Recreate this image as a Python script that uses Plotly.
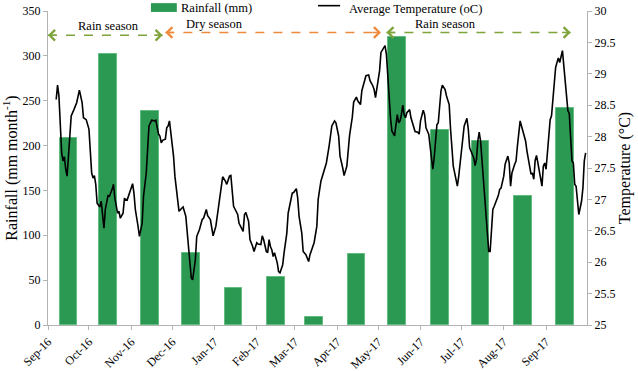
import pandas as pd
import plotly.graph_objects as go

# ---------------- data ----------------
month_labels = ["Sep-16", "Oct-16", "Nov-16", "Dec-16", "Jan-17", "Feb-17", "Mar-17",
                "Apr-17", "May-17", "Jun-17", "Jul-17", "Aug-17", "Sep-17"]
month_starts = ["2016-09-01", "2016-10-01", "2016-11-01", "2016-12-01", "2017-01-01",
                "2017-02-01", "2017-03-01", "2017-04-01", "2017-05-01", "2017-06-01",
                "2017-07-01", "2017-08-01", "2017-09-01"]
rain_dates = ["2016-09-16", "2016-10-15", "2016-11-15", "2016-12-15", "2017-01-15",
              "2017-02-15", "2017-03-15", "2017-04-15", "2017-05-15", "2017-06-15",
              "2017-07-15", "2017-08-15", "2017-09-15"]
rainfall_mm = [208, 302, 238, 80, 41, 53, 9, 79, 321, 217, 205, 144, 242]

# days since 2016-09-01 and average temperature (oC)
temp_day = [6, 7, 8, 9, 10, 11, 12, 13, 14, 15, 16, 17, 19, 21, 23, 24, 25, 26, 28, 30,
            31, 32, 33, 34, 35, 36, 38, 39, 41, 42, 44, 45, 47, 48, 49, 51, 52, 53, 55, 56,
            58, 59, 61, 62, 63, 64, 66, 67, 69, 70, 72, 73, 74, 76, 78, 79, 81, 82, 83, 84,
            86, 87, 88, 89, 90, 92, 93, 95, 96, 98, 99, 101, 102, 103, 104, 105, 106, 108, 109, 111,
            113, 114, 116, 117, 119, 120, 121, 123, 124, 126, 127, 128, 130, 131, 133, 134, 136, 137, 139, 140,
            142, 143, 144, 145, 147, 148, 150, 151, 153, 154, 156, 157, 158, 160, 161, 162, 163, 164, 165, 166,
            168, 169, 170, 172, 173, 175, 176, 178, 179, 180, 182, 183, 184, 186, 187, 189, 191, 192, 194, 195,
            197, 198, 200, 202, 203, 204, 206, 207, 208, 210, 211, 213, 214, 216, 217, 219, 220, 221, 223, 224,
            226, 227, 229, 230, 232, 233, 235, 236, 238, 239, 240, 241, 243, 244, 246, 247, 248, 249, 250, 251,
            252, 254, 255, 256, 257, 258, 259, 260, 261, 262, 263, 265, 266, 268, 269, 271, 272, 273, 275, 276,
            277, 279, 280, 281, 282, 283, 284, 285, 286, 287, 288, 289, 291, 292, 294, 295, 296, 297, 299, 300,
            301, 302, 303, 304, 305, 307, 308, 309, 311, 312, 313, 314, 315, 316, 317, 318, 319, 320, 321, 322,
            323, 324, 325, 326, 327, 329, 330, 331, 332, 334, 335, 337, 338, 339, 340, 342, 343, 344, 345, 346,
            347, 349, 350, 351, 353, 354, 355, 356, 357, 358, 359, 361, 362, 363, 364, 365, 366, 367, 368, 369,
            370, 371, 372, 373, 374, 375, 376, 377, 378, 379, 380, 381, 382, 383, 384, 385, 386, 387, 388, 389,
            391, 392, 393, 394]
temp_c = [28.59, 28.82, 28.65, 28.27, 27.75, 27.61, 27.68, 27.48, 27.37, 27.69, 28.12, 28.33, 28.43, 28.54, 28.74, 28.62, 28.54, 28.30, 28.27, 28.12,
          27.80, 27.42, 27.34, 27.38, 27.24, 26.94, 26.88, 26.97, 26.54, 26.84, 27.06, 27.05, 27.16, 27.24, 27.02, 26.78, 26.81, 26.70, 26.78, 27.01,
          26.99, 27.06, 27.21, 27.25, 27.10, 26.84, 26.57, 26.41, 26.62, 27.05, 27.42, 27.90, 28.17, 28.26, 28.25, 28.26, 28.04, 28.01, 27.90, 27.94,
          27.96, 28.14, 28.17, 28.25, 28.06, 27.69, 27.37, 27.05, 26.81, 26.86, 26.88, 26.73, 26.46, 26.15, 25.88, 25.75, 25.72, 26.04, 26.41, 26.52,
          26.68, 26.70, 26.84, 26.74, 26.68, 26.52, 26.42, 26.57, 26.73, 27.00, 27.21, 27.36, 27.29, 27.24, 27.37, 27.38, 26.89, 26.84, 26.76, 26.62,
          26.52, 26.49, 26.76, 26.79, 26.65, 26.36, 26.25, 26.17, 26.31, 26.29, 26.28, 26.42, 26.36, 26.17, 26.15, 26.36, 26.25, 26.20, 26.09, 26.15,
          25.99, 25.85, 25.83, 25.96, 26.15, 26.46, 26.78, 27.00, 27.10, 27.11, 27.17, 27.02, 26.73, 26.46, 26.17, 26.12, 26.01, 26.12, 26.25, 26.31,
          26.57, 27.00, 27.29, 27.45, 27.49, 27.58, 27.85, 28.01, 28.17, 28.25, 28.22, 28.01, 27.69, 27.50, 27.38, 27.53, 27.85, 28.02, 28.31, 28.55,
          28.63, 28.57, 28.51, 28.73, 28.89, 28.97, 28.98, 28.89, 28.81, 28.75, 28.62, 28.78, 29.05, 29.34, 29.42, 29.45, 29.31, 28.94, 28.73, 28.30,
          28.09, 28.01, 28.19, 28.35, 28.22, 28.25, 28.35, 28.50, 28.35, 28.30, 28.38, 28.43, 28.30, 28.17, 28.08, 28.07, 28.04, 28.25, 28.42, 28.35,
          28.14, 28.04, 27.82, 27.61, 27.48, 27.66, 27.93, 28.19, 28.22, 28.57, 28.73, 28.82, 28.75, 28.65, 28.51, 28.12, 27.80, 27.53, 27.32, 27.21,
          27.37, 27.58, 27.74, 28.04, 28.17, 28.29, 28.12, 27.82, 27.72, 27.66, 27.54, 27.64, 27.93, 28.07, 27.93, 27.64, 27.21, 26.94, 26.68, 26.41,
          26.17, 26.17, 26.52, 26.84, 26.89, 27.00, 27.06, 27.16, 27.18, 27.37, 27.56, 27.69, 27.58, 27.21, 27.42, 27.56, 27.61, 27.85, 28.06, 28.25,
          28.17, 27.98, 27.93, 27.77, 27.53, 27.40, 27.42, 27.32, 27.62, 27.70, 27.58, 27.32, 27.21, 27.53, 27.58, 27.48, 27.77, 28.04, 28.27, 28.33,
          28.57, 28.73, 29.10, 29.18, 29.25, 29.18, 29.26, 29.37, 29.13, 28.89, 28.57, 28.41, 28.37, 28.04, 27.61, 27.58, 27.24, 27.21, 26.97, 26.76,
          26.97, 27.18, 27.61, 27.74]

# season annotations: label, start, end, colour, label centre date
season_labels = ["Rain season", "Dry season", "Rain season"]
season_start = ["2016-09-01", "2016-11-26", "2017-05-07"]
season_end = ["2016-11-24", "2017-05-03", "2017-09-19"]
season_text_at = ["2016-10-15", "2017-01-01", "2017-06-19"]
season_level = [323, 326, 326]
season_colors = ["#7ea43b", "#ef8a3c", "#7ea43b"]

# ---------------- figure ----------------
FONT = "Liberation Serif, Times New Roman, serif"
origin = pd.Timestamp("2016-09-01")
temp_dates = [origin + pd.Timedelta(days=d) for d in temp_day]

fig = go.Figure()
fig.add_trace(go.Bar(
    x=pd.to_datetime(rain_dates), y=rainfall_mm, name="Rainfall (mm)",
    width=13 * 86400000, marker=dict(color="#2b9952", line=dict(color="#62bb80", width=1)),
    showlegend=False))
fig.add_trace(go.Scatter(
    x=temp_dates, y=temp_c, name="Average Temperature (oC)", mode="lines",
    line=dict(color="black", width=1.6), yaxis="y2", showlegend=False))

axis_gray = "#b3b3b3"
fig.update_layout(
    template="none",
    width=638, height=371,
    margin=dict(l=48, r=51, t=11, b=46, autoexpand=False),
    paper_bgcolor="white", plot_bgcolor="white",
    showlegend=False,
    font=dict(family=FONT, size=12, color="black"),
    xaxis=dict(type="date", range=["2016-09-01", "2017-10-01"], automargin=False,
               tickvals=pd.to_datetime(month_starts), ticktext=month_labels,
               tickangle=-45, showline=True, linecolor=axis_gray, linewidth=1,
               ticks="outside", ticklen=4, tickcolor=axis_gray, showgrid=False,
               zeroline=False, tickfont=dict(family=FONT, size=12)),
    yaxis=dict(range=[0, 350], dtick=50, showline=True, linecolor=axis_gray,
               automargin=False,
               ticks="outside", ticklen=4, tickcolor=axis_gray, showgrid=False,
               zeroline=False, tickfont=dict(family=FONT, size=12),
               title=dict(text="Rainfall (mm month<sup>-1</sup>)",
                          font=dict(family=FONT, size=16), standoff=6)),
    yaxis2=dict(range=[25, 30], dtick=0.5, overlaying="y", side="right",
                automargin=False,
                showline=True, linecolor=axis_gray, ticks="outside", ticklen=4,
                tickcolor=axis_gray, showgrid=False, zeroline=False,
                tickfont=dict(family=FONT, size=12),
                title=dict(text="Temperature (°C)", font=dict(family=FONT, size=16),
                           standoff=4)),
    bargap=0,
)

shapes = []
annotations = []
for lab, s, e, c, t, yv in zip(season_labels, season_start, season_end, season_colors,
                                season_text_at, season_level):
    shapes.append(dict(type="line", xref="x", yref="y", x0=s, x1=e, y0=yv, y1=yv,
                       line=dict(color=c, width=1.6, dash="dash")))
    annotations.append(dict(x=s, y=yv, xref="x", yref="y", text="", showarrow=True,
                            ax=10, ay=0, arrowhead=4, arrowsize=1.3, arrowwidth=1.6,
                            arrowcolor=c))
    annotations.append(dict(x=e, y=yv, xref="x", yref="y", text="", showarrow=True,
                            ax=-10, ay=0, arrowhead=4, arrowsize=1.3, arrowwidth=1.6,
                            arrowcolor=c))
    annotations.append(dict(x=t, y=yv + 10, xref="x", yref="y", text=lab, showarrow=False,
                            font=dict(family=FONT, size=12.5), yanchor="middle"))

# manual legend
shapes.append(dict(type="rect", xref="paper", yref="paper", x0=0.191, x1=0.239,
                   y0=0.997, y1=1.025, fillcolor="#2b9952", line=dict(width=0)))
annotations.append(dict(x=0.243, y=1.009, xref="paper", yref="paper", text="Rainfall (mm)",
                        showarrow=False, xanchor="left", yanchor="middle",
                        font=dict(family=FONT, size=12.5)))
shapes.append(dict(type="line", xref="paper", yref="paper", x0=0.501, x1=0.542,
                   y0=1.017, y1=1.017, line=dict(color="black", width=1.6)))
annotations.append(dict(x=0.555, y=1.006, xref="paper", yref="paper",
                        text="Average Temperature (oC)", showarrow=False,
                        xanchor="left", yanchor="middle",
                        font=dict(family=FONT, size=12.5)))

fig.update_layout(shapes=shapes, annotations=annotations)
# remove the default 8px page margin so the figure fills the window exactly
fig.write_html("out.html", config={"displayModeBar": False},
               post_script="document.body.style.margin='0';")
